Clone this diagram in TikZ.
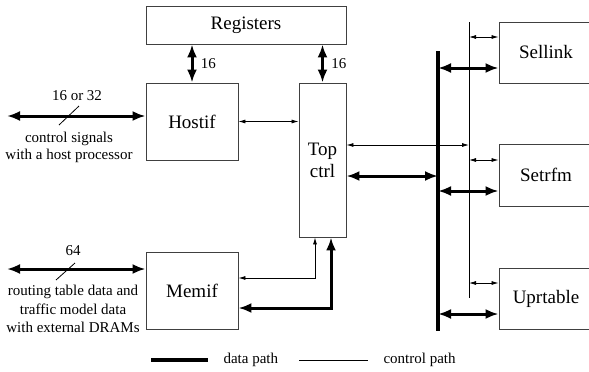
\documentclass[tikz,border=0pt]{standalone}
\usepackage{fontspec}
\setmainfont{Liberation Serif}
\usetikzlibrary{arrows.meta}

\begin{document}
\begin{tikzpicture}[x=1pt, y=-1pt,
		font=\rmfamily\fontsize{19}{22}\selectfont,
		box/.style={draw=black!75, line width=0.9pt, inner sep=0pt},
		data/.style={line width=3pt, {Latex[length=13pt,width=10pt]}-{Latex[length=13pt,width=10pt]}},
		ctrl/.style={line width=0.8pt, {Latex[length=7pt,width=4pt]}-{Latex[length=7pt,width=4pt]}},
		lbl/.style={font=\rmfamily\fontsize{15}{17}\selectfont}]
		\useasboundingbox (0,0) rectangle (589,372);
		
		% Blocks
		\node[box, minimum width=200pt, minimum height=38pt] (regs) at (246,25) {Registers};
		\node[box, minimum width=92pt, minimum height=77pt] (hostif) at (192,121.5) {Hostif};
		\node[box, minimum width=92pt, minimum height=77pt] (memif) at (192,290.5) {Memif};
		\node[box, minimum width=47pt, minimum height=154pt, align=center] (topctrl) at (322.5,160) {Top\\ctrl};
		\node[box, minimum width=94pt, minimum height=61pt] (sellink) at (546,52.5) {Sellink};
		\node[box, minimum width=94pt, minimum height=62pt] (setrfm) at (546,175) {Setrfm};
		\node[box, minimum width=94pt, minimum height=61pt] (uprtable) at (546,298.5) {Uprtable};
		
		% --- Data bus and control line ---
		\coordinate (busT) at (438,51);
		\coordinate (busB) at (438,331);
		\coordinate (ctlT) at (469,22);
		\coordinate (ctlB) at (469,298);
		\draw[line width=4pt] (busT) -- (busB);
		\draw[line width=0.8pt] (ctlT) -- (ctlB);
		
		% Registers access
		\draw[data] (regs.south -| hostif.north) -- (hostif.north) node[lbl, midway, right=4pt] {16};
		\draw[data] (regs.south -| topctrl.north) -- (topctrl.north) node[lbl, midway, right=4pt] {16};
		\draw[ctrl] (hostif.east) -- (hostif.east -| topctrl.west);
		
		% --- Host processor interface ---
		\coordinate (hostext) at (7,116);
		\draw[data] (hostext) -- (hostext -| hostif.west);
		\draw[line width=0.8pt] (59,125) -- (79,106);
		\node[lbl] (hostw) at (77,96) {16 or 32};
		\node[lbl, align=center] (hostt) at (69,147) {control signals\\with a host processor};
		
		% --- External DRAM interface ---
		\coordinate (memext) at (7,269);
		\draw[data] (memext) -- (memext -| memif.west);
		\draw[line width=0.8pt] (56,280) -- (75,263);
		\node[lbl] (memw) at (73,251) {64};
		\node[lbl, align=center, font=\rmfamily\fontsize{15}{18.5}\selectfont] (memt) at (73,309) {routing table data and\\traffic model data\\with external DRAMs};
		
		% Memif <-> Top ctrl
		\draw[ctrl] ([yshift=12.5pt]memif.east) -| ([xshift=-7.5pt]topctrl.south);
		\draw[data] ([yshift=-17.5pt]memif.east) -| ([xshift=8.5pt]topctrl.south);
		
		% Top ctrl to bus and control line
		\draw[ctrl] ([yshift=15pt]topctrl.east) -- ([yshift=15pt]topctrl.east -| ctlT);
		\draw[data] ([yshift=-16pt]topctrl.east) -- ([yshift=-16pt]topctrl.east -| busT);
		
		% Units on the bus
		\foreach \u/\a/\b in {sellink/15.5/-15.5, setrfm/15/-16, uprtable/15.5/-15.5} {
			\draw[ctrl] ([yshift=\a pt]\u.west -| ctlT) -- ([yshift=\a pt]\u.west);
			\draw[data] ([yshift=\b pt]\u.west -| busT) -- ([yshift=\b pt]\u.west);
		}
		
		% Legend
		\coordinate (dl1) at (151,360);
		\coordinate (dl2) at (208,360);
		\coordinate (cl1) at (299,360);
		\coordinate (cl2) at (368,360);
		\draw[line width=4pt] (dl1) -- (dl2);
		\node[lbl, anchor=west] (dlbl) at (220,360) {data path};
		\draw[line width=0.8pt] (cl1) -- (cl2);
		\node[lbl, anchor=west] (clbl) at (380,360) {control path};
		
	\end{tikzpicture}
\end{document}
